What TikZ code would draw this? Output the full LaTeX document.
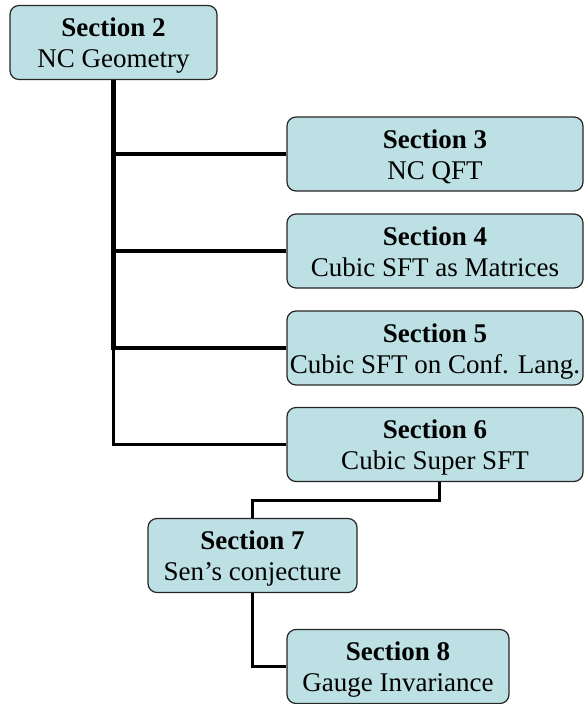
\documentclass[tikz,border=0pt]{standalone}
\usepackage{fontspec}
\setmainfont{Liberation Serif}
\definecolor{boxfill}{RGB}{188,224,227}
\newcommand{\secttext}[2]{\rule{0pt}{25.5pt}\textbf{Section #1}\\#2\rule[-6.5pt]{0pt}{0pt}}

\begin{document}
\begin{tikzpicture}[x=1pt, y=-1pt,
    sect/.style={draw=black!85, line width=1.2pt, fill=boxfill, rounded corners=9pt,
      align=center, inner sep=0pt, minimum height=74pt,
      font=\fontsize{27}{31}\selectfont},
    link/.style={line width=3.2pt},
    trunk/.style={line width=4.2pt}]
    \useasboundingbox (0, 0) rectangle (584, 704);

    \node[sect, minimum width=207pt] (s2) at (113.5, 42.5) {\secttext{2}{NC Geometry}};
    \node[sect, minimum width=296pt] (s3) at (435, 154) {\secttext{3}{NC QFT}};
    \node[sect, minimum width=296pt] (s4) at (435, 251) {\secttext{4}{Cubic SFT as Matrices}};
    \node[sect, minimum width=296pt] (s5) at (435, 348) {\secttext{5}{Cubic SFT on Conf. Lang.}};
    \node[sect, minimum width=296pt] (s6) at (435, 444.5) {\secttext{6}{Cubic Super SFT}};
    \node[sect, minimum width=209pt] (s7) at (252.5, 555.5) {\secttext{7}{Sen’s conjecture}};
    \node[sect, minimum width=222pt] (s8) at (398, 666.5) {\secttext{8}{Gauge Invariance}};

    \draw[link] (s2.south) |- (s6.west);
    \draw[trunk] (s2.south) |- (s5.west);
    \draw[link] (s2.south |- s3.west) -- (s3.west);
    \draw[link] (s2.south |- s4.west) -- (s4.west);

    \draw[link] ([xshift=4.5pt]s6.south) -- ++(0, 18) -| (s7.north);
    \draw[link] (s7.south) |- (s8.west);
\end{tikzpicture}
\end{document}
